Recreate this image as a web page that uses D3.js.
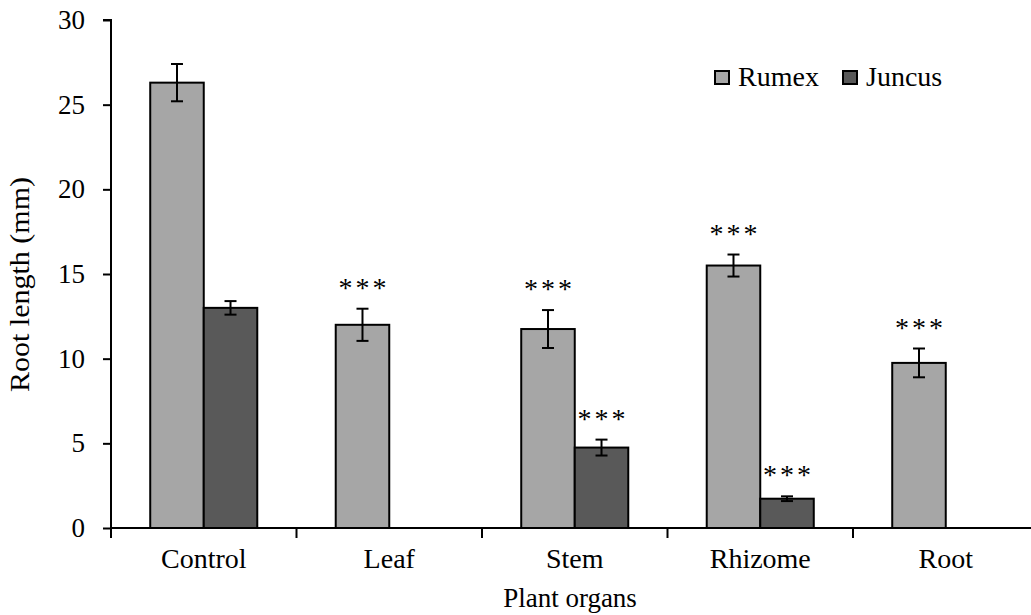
<!DOCTYPE html>
<html><head><meta charset="utf-8">
<script src="https://cdn.jsdelivr.net/npm/d3@7"></script>
<style>body{margin:0;background:#fff}svg{display:block}text{font-family:"Liberation Serif","Times New Roman",serif;fill:#000}</style>
</head><body><svg id="c" width="1031" height="615"></svg>
<script>
const categories = ["Control","Leaf","Stem","Rhizome","Root"];
const seriesNames = ["Rumex","Juncus"];
const rumex = [26.3, 12.0, 11.75, 15.5, 9.75];
const rumexErr = [1.1, 0.95, 1.12, 0.65, 0.85];
const juncus = [13.0, null, 4.75, 1.73, null];
const juncusErr = [0.4, null, 0.47, 0.14, null];
const rumexSig = ["", "***", "***", "***", "***"];
const juncusSig = ["", "", "***", "***", ""];
const yTicks = [0,5,10,15,20,25,30];
const colors = ["#a6a6a6","#595959"];

(function(){
const svg = d3.select("#c");
const mLeft = 111, mTop = 20, mBottom = 528, bandW = 185.5;
const x = d3.scaleBand().domain(categories).range([mLeft, mLeft + bandW*categories.length]).paddingInner(0).paddingOuter(0);
const y = d3.scaleLinear().domain([0,30]).range([mBottom, mTop]);
const inner = d3.scaleBand().domain(seriesNames).range([0, bandW]).paddingInner(0).paddingOuter(0.733);

const rows = [];
categories.forEach((c,i)=>{
  rows.push({c, s:"Rumex", v:rumex[i], e:rumexErr[i], sig:rumexSig[i], col:colors[0]});
  if (juncus[i] != null) rows.push({c, s:"Juncus", v:juncus[i], e:juncusErr[i], sig:juncusSig[i], col:colors[1]});
});

svg.append("g").selectAll("rect").data(rows).join("rect")
  .attr("x", d=>x(d.c)+inner(d.s))
  .attr("y", d=>y(d.v))
  .attr("width", inner.bandwidth())
  .attr("height", d=>mBottom - y(d.v))
  .attr("fill", d=>d.col).attr("stroke","#000").attr("stroke-width",2);

const eb = svg.append("g").attr("stroke","#000").attr("stroke-width",2);
rows.forEach(d=>{
  const cx = x(d.c)+inner(d.s)+inner.bandwidth()/2;
  eb.append("line").attr("x1",cx).attr("x2",cx).attr("y1",y(d.v+d.e)).attr("y2",y(d.v-d.e));
  eb.append("line").attr("x1",cx-6).attr("x2",cx+6).attr("y1",y(d.v+d.e)).attr("y2",y(d.v+d.e));
  eb.append("line").attr("x1",cx-6).attr("x2",cx+6).attr("y1",y(d.v-d.e)).attr("y2",y(d.v-d.e));
  if (d.sig) {
    svg.append("text").attr("x",cx+1.5).attr("y",y(d.v+d.e)-12)
      .attr("text-anchor","middle").attr("font-size",28).attr("letter-spacing","3px").text(d.sig);
  }
});

const yAxis = svg.append("g").attr("transform",`translate(${mLeft},0)`)
  .call(d3.axisLeft(y).tickValues(yTicks).tickSize(8).tickPadding(18).tickFormat(d3.format("d")));
yAxis.select(".domain").attr("stroke","#000").attr("stroke-width",2).attr("d",`M-8,${mTop}H0V${mBottom}`);
yAxis.selectAll(".tick line").attr("stroke","#000").attr("stroke-width",2);
yAxis.selectAll(".tick text").attr("font-size",27).attr("font-family","Liberation Serif").attr("fill","#000");

const xAxis = svg.append("g").attr("transform",`translate(0,${mBottom})`);
xAxis.append("line").attr("x1",mLeft).attr("x2",1031).attr("y1",0).attr("y2",0).attr("stroke","#000").attr("stroke-width",2);
const bounds = categories.map(c=>x(c)).concat([x(categories[categories.length-1])+bandW]);
xAxis.selectAll("line.t").data(bounds).join("line").attr("class","t")
  .attr("x1",d=>d).attr("x2",d=>d).attr("y1",0).attr("y2",10).attr("stroke","#000").attr("stroke-width",2);
xAxis.selectAll("text").data(categories).join("text")
  .attr("x",d=>x(d)+bandW/2).attr("y",40).attr("text-anchor","middle").attr("font-size",28).text(d=>d);

svg.append("text").attr("transform","translate(29,284.5) rotate(-90)").attr("text-anchor","middle")
  .attr("font-size",27).attr("textLength",215).attr("lengthAdjust","spacingAndGlyphs").text("Root length (mm)");
svg.append("text").attr("x",570).attr("y",607).attr("text-anchor","middle").attr("font-size",27).text("Plant organs");

const lg = svg.append("g");
const legX = [715, 843];
seriesNames.forEach((s,i)=>{
  lg.append("rect").attr("x",legX[i]).attr("y",71).attr("width",14).attr("height",13)
    .attr("fill",colors[i]).attr("stroke","#000").attr("stroke-width",2);
  lg.append("text").attr("x",legX[i]+23).attr("y",86).attr("font-size",28).text(s);
});
})();
</script></body></html>
